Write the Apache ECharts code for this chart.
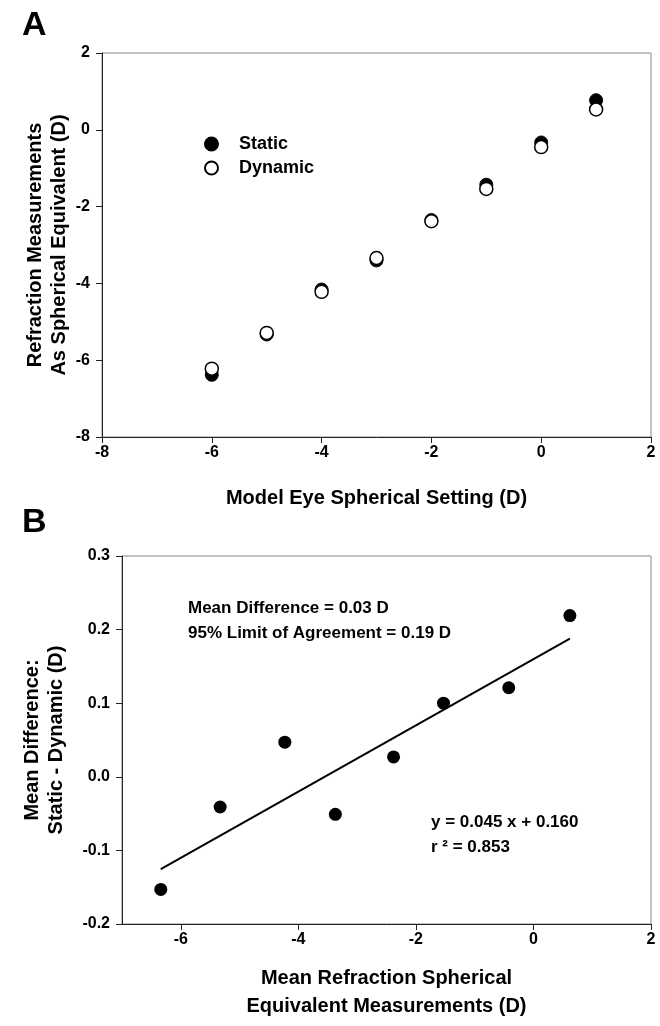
<!DOCTYPE html>
<html>
<head>
<meta charset="utf-8">
<script src="https://cdn.jsdelivr.net/npm/echarts@6/dist/echarts.min.js"></script>
<style>
html,body{margin:0;padding:0;background:#fff;}
#chart{width:660px;height:1026px;}
</style>
</head>
<body>
<div id="chart"></div>
<script>
// Panel A data
const modelSettings = [-6, -5, -4, -3, -2, -1, 0, 1];
const staticValues = [-6.38, -5.33, -4.16, -3.40, -2.35, -1.43, -0.33, 0.77];
const dynamicValues = [-6.22, -5.29, -4.22, -3.34, -2.38, -1.54, -0.45, 0.53];
// Panel B data
const meanRefraction = [-6.34, -5.33, -4.23, -3.37, -2.38, -1.53, -0.42, 0.62];
const meanDifference = [-0.153, -0.041, 0.047, -0.051, 0.027, 0.100, 0.121, 0.219];
const fitSlope = 0.045;
const fitIntercept = 0.160;
// tick labels
const ticksA = [-8, -6, -4, -2, 0, 2];
const ticksBx = [-6, -4, -2, 0, 2];
const ticksBy = [-0.2, -0.1, 0.0, 0.1, 0.2, 0.3];

const FONT = "'Liberation Sans', Arial, sans-serif";
const pairs = (xs, ys) => xs.map((x, i) => [x, ys[i]]);
const xMin = Math.min(...meanRefraction), xMax = Math.max(...meanRefraction);
const fitLine = [xMin, xMax].map(x => [x, fitSlope * x + fitIntercept]);

const axisCommon = {
  axisLine: { show: true, onZero: false, lineStyle: { color: '#222', width: 1 } },
  axisTick: { show: true, inside: false, length: 6, lineStyle: { color: '#222' } },
  splitLine: { show: false },
  axisLabel: { color: '#000', fontFamily: FONT, fontWeight: 'bold', fontSize: 16 },
  nameTextStyle: { color: '#000', fontFamily: FONT, fontWeight: 'bold', fontSize: 20, lineHeight: 24 }
};
function ax(extra) {
  const o = JSON.parse(JSON.stringify(axisCommon));
  for (const k in extra) {
    if (typeof extra[k] === 'object' && !Array.isArray(extra[k]) && o[k]) Object.assign(o[k], extra[k]);
    else o[k] = extra[k];
  }
  return o;
}

const chart = echarts.init(document.getElementById('chart'), null, { renderer: 'canvas' });
chart.setOption({
  animation: false,
  backgroundColor: '#fff',
  textStyle: { fontFamily: FONT },
  grid: [
    { left: 102, top: 53, width: 549, height: 384, show: true, borderColor: '#888', borderWidth: 1, containLabel: false },
    { left: 122, top: 556, width: 529, height: 368, show: true, borderColor: '#888', borderWidth: 1, containLabel: false }
  ],
  xAxis: [
    ax({ gridIndex: 0, type: 'value', min: ticksA[0], max: ticksA[ticksA.length - 1], interval: 2,
      name: 'Model Eye Spherical Setting (D)', nameLocation: 'middle', nameGap: 49,
      axisLabel: { margin: 8 } }),
    ax({ gridIndex: 1, type: 'value', min: -7, max: 2,
      name: 'Mean Refraction Spherical\nEquivalent Measurements (D)', nameLocation: 'middle', nameGap: 40,
      nameTextStyle: { lineHeight: 28 },
      axisTick: { customValues: ticksBx },
      axisLabel: { margin: 8, customValues: ticksBx } })
  ],
  yAxis: [
    ax({ gridIndex: 0, type: 'value', min: ticksA[0], max: ticksA[ticksA.length - 1], interval: 2,
      name: 'Refraction Measurements\nAs Spherical Equivalent (D)', nameLocation: 'middle', nameGap: 31,
      nameMoveOverlap: false,
      axisLabel: { margin: 12 } }),
    ax({ gridIndex: 1, type: 'value', min: ticksBy[0], max: ticksBy[ticksBy.length - 1], interval: 0.1,
      name: 'Mean Difference:\nStatic - Dynamic (D)', nameLocation: 'middle', nameGap: 54,
      axisLabel: { margin: 12, formatter: v => v.toFixed(1) } })
  ],
  legend: {
    data: ['Static', 'Dynamic'],
    orient: 'vertical', left: 199, top: 130,
    itemWidth: 13, itemHeight: 13, itemGap: 6,
    icon: 'circle',
    textStyle: { color: '#000', fontFamily: FONT, fontWeight: 'bold', fontSize: 18, padding: [0, 0, 0, 16] }
  },
  graphic: [
    { type: 'text', left: 22, top: 9, style: { text: 'A', fill: '#000', font: 'bold 34px ' + FONT } },
    { type: 'text', left: 22, top: 506, style: { text: 'B', fill: '#000', font: 'bold 34px ' + FONT } },
    { type: 'text', left: 188, top: 600, style: { text: 'Mean Difference = 0.03 D', fill: '#000', font: 'bold 17px ' + FONT } },
    { type: 'text', left: 188, top: 625, style: { text: '95% Limit of Agreement = 0.19 D', fill: '#000', font: 'bold 17px ' + FONT } },
    { type: 'text', left: 431, top: 814, style: { text: 'y = 0.045 x + 0.160', fill: '#000', font: 'bold 17px ' + FONT } },
    { type: 'text', left: 431, top: 839, style: { text: 'r \u00B2 = 0.853', fill: '#000', font: 'bold 17px ' + FONT } }
  ],
  series: [
    { name: 'Static', type: 'scatter', xAxisIndex: 0, yAxisIndex: 0, symbol: 'circle', symbolSize: 13,
      itemStyle: { color: '#000', borderColor: '#000', borderWidth: 1, opacity: 1 }, z: 2,
      data: pairs(modelSettings, staticValues) },
    { name: 'Dynamic', type: 'scatter', xAxisIndex: 0, yAxisIndex: 0, symbol: 'circle', symbolSize: 13,
      itemStyle: { color: '#fff', borderColor: '#000', borderWidth: 1.5, opacity: 1 }, z: 3,
      data: pairs(modelSettings, dynamicValues) },
    { name: 'Difference', type: 'scatter', xAxisIndex: 1, yAxisIndex: 1, symbol: 'circle', symbolSize: 13,
      itemStyle: { color: '#000', opacity: 1 }, z: 3,
      data: pairs(meanRefraction, meanDifference) },
    { name: 'Fit', type: 'line', xAxisIndex: 1, yAxisIndex: 1, showSymbol: false, symbol: 'none',
      lineStyle: { color: '#000', width: 2 }, z: 2, data: fitLine }
  ]
});
</script>
</body>
</html>
